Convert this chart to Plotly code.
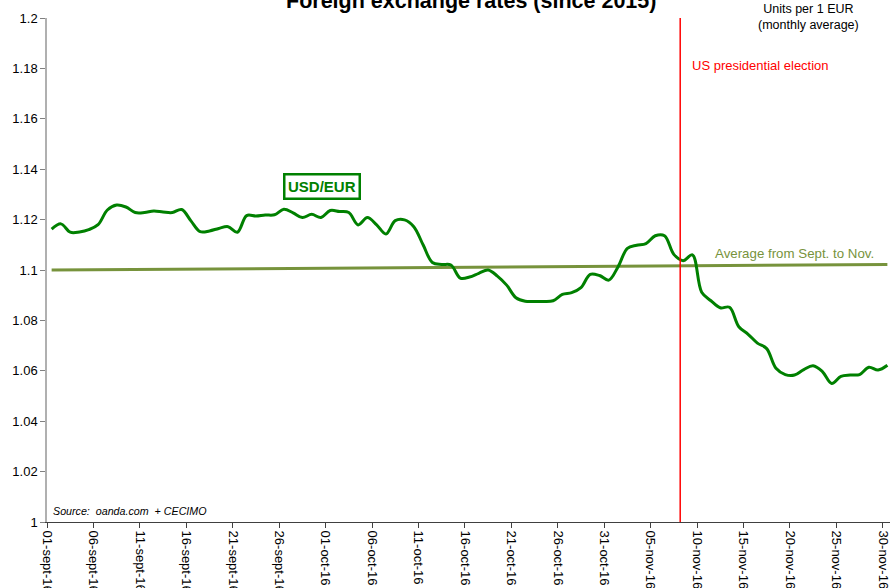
import pandas as pd
import plotly.graph_objects as go

# ---- data ----
start_date = "2016-09-01"
end_date = "2016-11-30"
usd_eur = [
    1.1162, 1.1183, 1.1150, 1.1151, 1.1160, 1.1180, 1.1238, 1.1258, 1.1250, 1.1228,
    1.1228, 1.1234, 1.1230, 1.1228, 1.1240, 1.1195, 1.1152, 1.1155, 1.1165, 1.1172,
    1.1150, 1.1216, 1.1214, 1.1218, 1.1219, 1.1241, 1.1227, 1.1208, 1.1221, 1.1208,
    1.1236, 1.1232, 1.1228, 1.1179, 1.1208, 1.1179, 1.1143, 1.1196, 1.1199, 1.1172,
    1.1100, 1.1030, 1.1022, 1.1020, 1.0968, 1.0972, 1.0987, 1.1000, 1.0976, 1.0940,
    1.0890, 1.0876, 1.0875, 1.0875, 1.0878, 1.0903, 1.0910, 1.0930, 1.0983, 1.0978,
    1.0960, 1.1013, 1.1086, 1.1098, 1.1105, 1.1136, 1.1136, 1.1062, 1.1037, 1.1060,
    1.0912, 1.0878, 1.0850, 1.0852, 1.0775, 1.0745, 1.0710, 1.0688, 1.0610, 1.0585,
    1.0583, 1.0605, 1.0620, 1.0597, 1.0550, 1.0578, 1.0583, 1.0585, 1.0614, 1.0603,
    1.0622,
]
average_values = [1.1000, 1.1022]          # trend "Average from Sept. to Nov."
election_date = "2016-11-08 04:30"

tick_dates = ["2016-09-01", "2016-09-06", "2016-09-11", "2016-09-16", "2016-09-21",
              "2016-09-26", "2016-10-01", "2016-10-06", "2016-10-11", "2016-10-16",
              "2016-10-21", "2016-10-26", "2016-10-31", "2016-11-05", "2016-11-10",
              "2016-11-15", "2016-11-20", "2016-11-25", "2016-11-30"]
tick_labels = ["01-sept-16", "06-sept-16", "11-sept-16", "16-sept-16", "21-sept-16",
               "26-sept-16", "01-oct-16", "06-oct-16", "11-oct-16", "16-oct-16",
               "21-oct-16", "26-oct-16", "31-oct-16", "05-nov-16", "10-nov-16",
               "15-nov-16", "20-nov-16", "25-nov-16", "30-nov-16"]
y_ticks = [1.0, 1.02, 1.04, 1.06, 1.08, 1.1, 1.12, 1.14, 1.16, 1.18, 1.2]
y_labels = ["1", "1.02", "1.04", "1.06", "1.08", "1.1", "1.12", "1.14", "1.16", "1.18", "1.2"]

# points sit in the middle of each day slot (Excel "between tick marks")
days = pd.date_range(start_date, end_date, freq="D") + pd.Timedelta(hours=12)
avg_x = [days[0], days[-1]]
x_range = [pd.Timestamp(start_date), pd.Timestamp(start_date) + pd.Timedelta(days=90.78)]

FONT = "Arial, 'Liberation Sans', sans-serif"
GREEN = "#008000"
OLIVE = "#77933C"

fig = go.Figure()
fig.add_trace(go.Scatter(x=avg_x, y=average_values, mode="lines",
                         line=dict(color=OLIVE, width=3), hoverinfo="skip"))
fig.add_trace(go.Scatter(x=days, y=usd_eur, mode="lines",
                         line=dict(color=GREEN, width=3, shape="spline", smoothing=1.0)))

fig.add_shape(type="line", xref="x", yref="paper", x0=election_date, x1=election_date,
              y0=0, y1=1, line=dict(color="#FF0000", width=1.5))

fig.update_layout(
    width=890, height=588,
    margin=dict(l=47, r=0, t=18, b=66),
    paper_bgcolor="white", plot_bgcolor="white",
    showlegend=False,
    font=dict(family=FONT, size=12, color="#000000"),
    xaxis=dict(
        type="date", range=x_range, showgrid=False, zeroline=False,
        showline=True, linecolor="#404040", linewidth=1,
        ticks="outside", ticklen=5, tickcolor="#404040",
        tickvals=tick_dates, ticktext=tick_labels, tickangle=90,
        tickfont=dict(family=FONT, size=13, color="#000000"),
        ticklabeloverflow="allow",
        automargin=False,
    ),
    yaxis=dict(
        range=[1.0, 1.2], showgrid=False, zeroline=False,
        showline=True, linecolor="#B0B0B0", linewidth=1.5,
        ticks="outside", ticklen=5, tickcolor="#808080",
        tickvals=y_ticks, ticktext=y_labels,
        tickfont=dict(family=FONT, size=13, color="#000000"),
        ticklabeloverflow="allow",
        automargin=False,
    ),
)

annotations = [
    dict(text="<b>Foreign exchange rates (since 2015)</b>", x=0.503, y=1.0347,
         xanchor="center", yanchor="middle", font=dict(size=21.5, color="#000000")),
    dict(text="Units per 1 EUR<br>(monthly average)", x=0.903, y=1.001,
         xanchor="center", yanchor="middle", font=dict(size=12.5, color="#000000")),
    dict(text="US presidential election", x=0.763, y=0.9067,
         xanchor="left", yanchor="middle", font=dict(size=13, color="#FF0000")),
    dict(text="<b>USD/EUR</b>", x=0.3262, y=0.6647, xanchor="center", yanchor="middle",
         font=dict(size=15, color=GREEN), bordercolor=GREEN, borderwidth=2.5,
         borderpad=2.5, bgcolor="white"),
    dict(text="Average from Sept. to Nov.", x=0.887, y=0.5337,
         xanchor="center", yanchor="middle", font=dict(size=13.3, color=OLIVE)),
    dict(text="<i>Source:\u00a0\u00a0oanda.com\u00a0\u00a0+ CECIMO</i>", x=0.005, y=0.0218,
         xanchor="left", yanchor="middle", font=dict(size=10.7, color="#000000")),
]
for a in annotations:
    a.update(xref="paper", yref="paper", showarrow=False)
    fig.add_annotation(**a)

fig.write_html("out.html", config={"displayModeBar": False},
               post_script="document.body.style.margin='0';document.body.style.overflow='hidden';")
